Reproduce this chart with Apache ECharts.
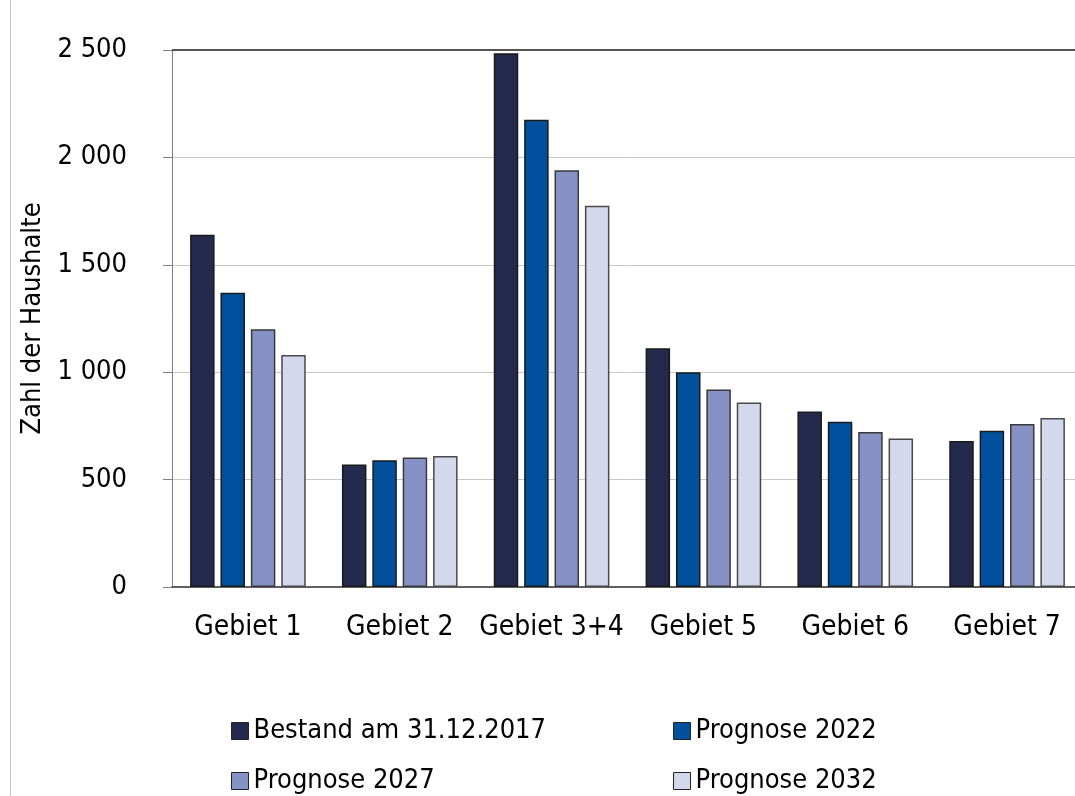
<!DOCTYPE html>
<html>
<head>
<meta charset="utf-8">
<script src="https://cdn.jsdelivr.net/npm/echarts@6/dist/echarts.min.js"></script>
<style>html,body{margin:0;padding:0;background:#fff;overflow:hidden}#c{width:1090px;height:796px}</style>
</head>
<body>
<div id="c"></div>
<script>
const categories = ['Gebiet 1', 'Gebiet 2', 'Gebiet 3+4', 'Gebiet 5', 'Gebiet 6', 'Gebiet 7'];
const bestand2017 = [1640, 570, 2485, 1112, 817, 680];
const prognose2022 = [1370, 590, 2175, 1000, 769, 728];
const prognose2027 = [1200, 603, 1940, 919, 722, 759];
const prognose2032 = [1080, 610, 1775, 859, 691, 787];
const seriesNames = ['Bestand am 31.12.2017', 'Prognose 2022', 'Prognose 2027', 'Prognose 2032'];
const yTicks = { min: 0, max: 2500, interval: 500 };

const FONT = '"DejaVu Sans Condensed", "Liberation Sans", sans-serif';
const colors = ['#232a4e', '#00509e', '#8691c6', '#d3d8ec'];
const borders = ['#1a1a1a', '#1a1a1a', '#3a3a3a', '#4a4a4a'];
const data = [bestand2017, prognose2022, prognose2027, prognose2032];
const legendPos = [[226, 711], [668, 711], [226, 761], [668, 761]];

const chart = echarts.init(document.getElementById('c'), null, { renderer: 'canvas' });
const fmt = v => String(v).replace(/\B(?=(\d{3})+(?!\d))/g, ' ');

chart.setOption({
  animation: false,
  backgroundColor: '#fff',
  textStyle: { fontFamily: FONT },
  graphic: [{
    type: 'line', shape: { x1: 10.5, y1: 0, x2: 10.5, y2: 796 },
    style: { stroke: '#c4c4c4', lineWidth: 1 }, silent: true
  }],
  grid: { left: 172, top: 50, width: 911, height: 537 },
  legend: seriesNames.map((n, i) => ({
    left: legendPos[i][0], top: legendPos[i][1],
    itemWidth: 17, itemHeight: 17, icon: 'rect', itemGap: 0,
    itemStyle: { borderColor: '#222', borderWidth: 1 },
    textStyle: { fontFamily: FONT, fontSize: 27, color: '#000', lineHeight: 30 },
    data: [n]
  })),
  xAxis: {
    type: 'category',
    data: categories,
    axisLine: { lineStyle: { color: '#606060', width: 2 } },
    axisTick: { show: false },
    axisLabel: { fontFamily: FONT, fontSize: 28, color: '#000', margin: 27, interval: 0 },
    splitLine: { show: false }
  },
  yAxis: {
    type: 'value',
    min: yTicks.min, max: yTicks.max, interval: yTicks.interval,
    name: 'Zahl der Haushalte',
    nameLocation: 'middle',
    nameGap: 122,
    nameTextStyle: { fontFamily: FONT, fontSize: 27, color: '#000' },
    axisLine: { show: true, lineStyle: { color: '#808080' } },
    axisTick: { show: true, length: 9, lineStyle: { color: '#808080' } },
    axisLabel: { fontFamily: FONT, fontSize: 27, color: '#000', margin: 45, formatter: fmt },
    splitLine: { show: true, lineStyle: { color: '#c8c8c8', width: 1 } }
  },
  series: data.map((d, i) => {
    const s = {
      name: seriesNames[i],
      type: 'bar',
      data: d,
      barWidth: 24.5,
      barGap: '24%',
      itemStyle: { color: colors[i], borderColor: borders[i], borderWidth: 1.5 }
    };
    if (i === 0) {
      s.markLine = {
        silent: true, symbol: 'none', label: { show: false },
        lineStyle: { color: '#555', width: 2, type: 'solid' },
        data: [{ yAxis: yTicks.max }]
      };
    }
    return s;
  })
});
</script>
</body>
</html>
